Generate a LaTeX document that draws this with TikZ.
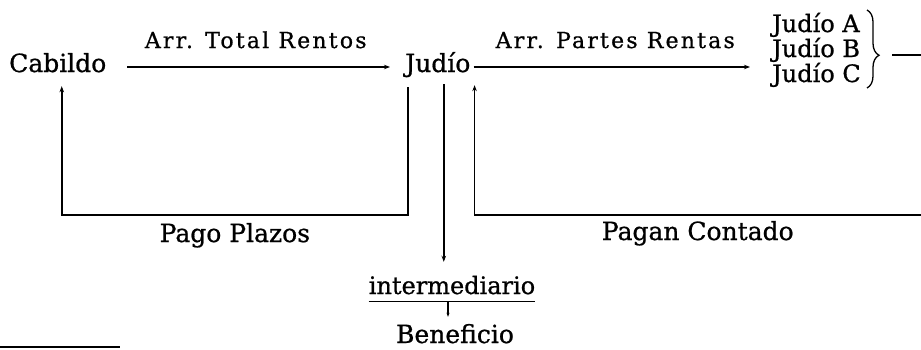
\documentclass[tikz,border=0pt]{standalone}
\usepackage{fontspec}
\setmainfont[FakeBold=0.8]{DejaVu Serif}
\usetikzlibrary{arrows.meta,decorations.pathreplacing}
\begin{document}
\begin{tikzpicture}[x=1pt,y=-1pt,
  lbl/.style={inner sep=0pt, text height=18pt, text depth=8pt, font=\fontsize{25}{26}\selectfont},
  arrlbl/.style={inner sep=0pt, font=\fontsize{22}{24}\selectfont\addfontfeature{LetterSpace=10}},
  sub/.style={inner sep=0pt, anchor=base west, font=\fontsize{24}{25}\selectfont},
  conn/.style={line width=1.6pt},
  arr/.style={conn, -{Stealth[length=6pt,width=4.5pt]}},
  smallarr/.style={line width=1.1pt, -{Stealth[length=4pt,width=3pt]}},
]
\useasboundingbox (0,0) rectangle (921,349);
% nodes
\node[lbl, anchor=base west] (cab) at (9,72) {Cabildo};
\node[lbl, anchor=base west] (jud) at (405,72) {Judío};
\node[sub] (ja) at (772,32) {Judío A};
\node[sub] (jb) at (772,57) {Judío B};
\node[sub] (jc) at (772,82) {Judío C};
\node[lbl, anchor=base, font=\fontsize{24}{25}\selectfont, text depth=7pt] (inter) at (452,294) {intermediario};
\node[lbl, anchor=base, text depth=2pt] (ben) at (455,343) {Beneficio};
% free ends
\coordinate (bt) at (867,10);
\coordinate (bb) at (867,88);
\coordinate (btip) at (892,55);
\coordinate (redge) at (921,55);
\coordinate (pcr) at (921,215);
\coordinate (fa) at (0,347);
\coordinate (fb) at (120,347);
% top arrows
\draw[arr, shorten <=21pt, shorten >=15pt] (cab.east) -- (jud.west)
  node[arrlbl, midway, anchor=base, yshift=19pt] {Arr. Total Rentos};
\draw[arr, shorten <=3pt, shorten >=22pt] (jud.east) -- (jb.west |- jud.east)
  node[arrlbl, pos=0.48, anchor=base, yshift=19pt] {Arr. Partes Rentas};
% Pago Plazos loop
\draw[arr] ([xshift=3pt,yshift=-7pt]jud.south west) |- ([xshift=4pt]cab.south |- 0,215)
  node[lbl, pos=0.75, anchor=base, yshift=-27pt] {Pago Plazos}
  -- ([xshift=4pt,yshift=-6pt]cab.south);
% Pagan Contado loop
\draw[arr] (pcr) -| ([xshift=4pt,yshift=-5pt]jud.south east)
  node[lbl, pos=0.25, anchor=base, yshift=-25pt] {Pagan Contado};
% down to intermediario
\draw[arr, shorten >=14pt] ([xshift=6pt,yshift=-4pt]jud.south) -- ([xshift=6pt]jud.south |- inter.north);
\draw[line width=1.1pt] (inter.south west) -- (inter.south east);
\draw[smallarr, shorten >=8pt] ([xshift=-4pt]inter.south) -- ([xshift=-4pt]inter.south |- ben.north);
% brace
\draw[line width=1.3pt, decorate, decoration={brace, amplitude=12pt, aspect=0.58}] (bt) -- (bb);
\draw[conn] (btip) -- (redge);
% footnote rule
\draw[line width=1.1pt] (fa) -- (fb);
\end{tikzpicture}
\end{document}
